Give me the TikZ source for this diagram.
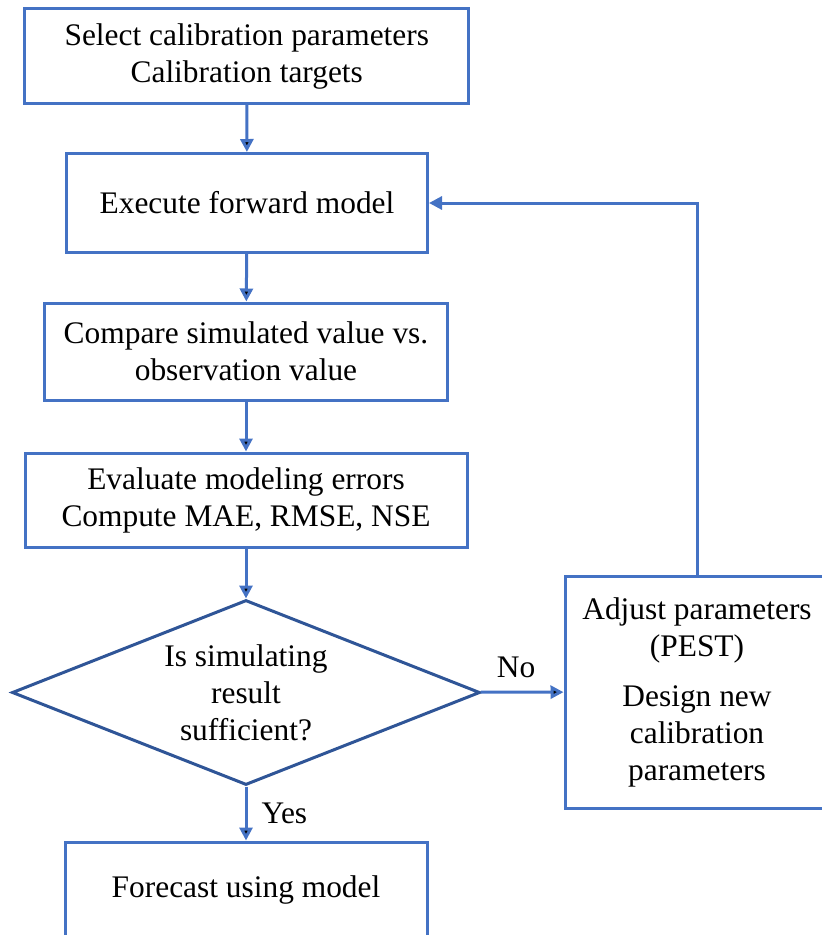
\documentclass[tikz,border=0pt]{standalone}
\usepackage{fontspec}
\setmainfont{Liberation Serif}
\usetikzlibrary{arrows.meta,shapes.geometric}
\definecolor{boxblue}{HTML}{4472C4}
\definecolor{darkblue}{HTML}{2F5597}

\begin{document}
\begin{tikzpicture}[x=1pt,y=-1pt,>={Triangle[width=13pt,length=13pt]},line width=3pt,
                    font=\fontsize{31.4}{37}\selectfont]
  \tikzstyle{block}=[rectangle,draw=boxblue,fill=white,align=center,inner sep=0pt]
  \tikzstyle{decision}=[diamond,draw=darkblue,fill=white,align=center,inner sep=0pt,aspect=2.53]
  \tikzstyle{flow}=[->,draw=boxblue]
  \tikzstyle{lbl}=[inner sep=2pt,text=black]

  \clip (0,0) rectangle (822,935);

  \node[block,minimum width=444,minimum height=95] (select) at (246.75,56)
       {Select calibration parameters\\Calibration targets};
  \node[block,minimum width=361,minimum height=99] (exec) at (247,203)
       {Execute forward model};
  \node[block,minimum width=403,minimum height=97] (comp) at (246,351.5)
       {Compare simulated value vs.\\observation value};
  \node[block,minimum width=442,minimum height=94] (eval) at (246,500)
       {Evaluate modeling errors\\Compute MAE, RMSE, NSE};
  \node[decision,minimum width=468,minimum height=185] (check) at (246,692.5)
       {Is simulating\\result\\sufficient?};
  \node[block,minimum width=362,minimum height=96] (fore) at (246,890)
       {Forecast using model};
  \node[block,minimum width=264,minimum height=232] (adjust) at (697,692)
       {Adjust parameters\\(PEST)\\[13pt]Design new\\calibration\\parameters};

  \path[flow]
(select) edge (exec)
(exec) edge (comp)
(comp) edge (eval)
(eval) edge (check)
(check) edge node[lbl,right=12pt] {Yes} (fore)
(check) edge node[lbl,above=11pt,xshift=-6pt] {No} (adjust);
  \draw[flow] (adjust.north) |- (exec.east);
\end{tikzpicture}
\end{document}
